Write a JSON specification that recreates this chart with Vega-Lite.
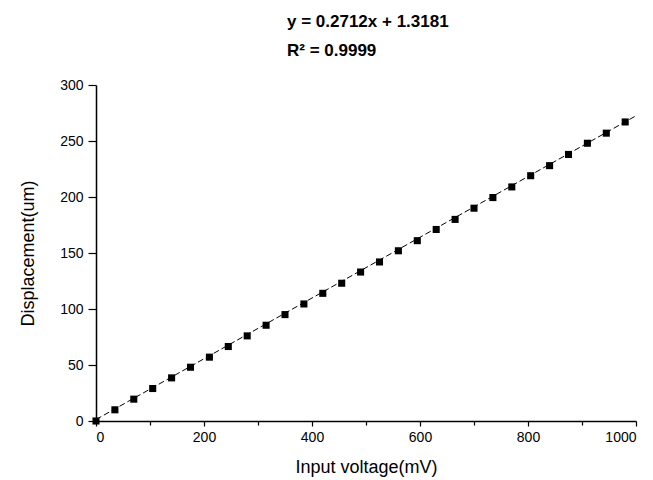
{
  "$schema": "https://vega.github.io/schema/vega-lite/v6.json",
  "width": 540,
  "height": 336,
  "autosize": {"type": "none"},
  "padding": {"left": 96, "top": 85, "right": 17, "bottom": 59},
  "background": "white",
  "config": {
    "view": {"stroke": null},
    "font": "Liberation Sans",
    "axis": {
      "domainColor": "black",
      "domainWidth": 1.5,
      "tickColor": "black",
      "tickWidth": 1.2,
      "labelColor": "black",
      "titleColor": "black",
      "labelFont": "Liberation Sans",
      "titleFont": "Liberation Sans",
      "labelFontSize": 14,
      "titleFontSize": 18,
      "titleFontWeight": "normal",
      "grid": false
    }
  },
  "title": {
    "text": ["y = 0.2712x + 1.3181", "R² = 0.9999"],
    "anchor": "start",
    "frame": "group",
    "align": "left",
    "dx": 191,
    "dy": 17,
    "fontSize": 17,
    "fontWeight": "bold",
    "font": "Liberation Sans",
    "color": "black",
    "lineHeight": 29,
    "baseline": "alphabetic",
    "offset": 22
  },
  "datasets": {
    "points": [
      {"voltage": 0, "displacement": 0},
      {"voltage": 35, "displacement": 10},
      {"voltage": 70, "displacement": 19.5},
      {"voltage": 105, "displacement": 29},
      {"voltage": 140, "displacement": 38.5},
      {"voltage": 175, "displacement": 48},
      {"voltage": 210, "displacement": 57},
      {"voltage": 245, "displacement": 66.5},
      {"voltage": 280, "displacement": 76},
      {"voltage": 315, "displacement": 85.5},
      {"voltage": 350, "displacement": 95},
      {"voltage": 385, "displacement": 104.5},
      {"voltage": 420, "displacement": 114},
      {"voltage": 455, "displacement": 123},
      {"voltage": 490, "displacement": 133},
      {"voltage": 525, "displacement": 142},
      {"voltage": 560, "displacement": 152},
      {"voltage": 595, "displacement": 161},
      {"voltage": 630, "displacement": 171},
      {"voltage": 665, "displacement": 180},
      {"voltage": 700, "displacement": 190},
      {"voltage": 735, "displacement": 199.5},
      {"voltage": 770, "displacement": 209},
      {"voltage": 805, "displacement": 219},
      {"voltage": 840, "displacement": 228},
      {"voltage": 875, "displacement": 238},
      {"voltage": 910, "displacement": 248},
      {"voltage": 945, "displacement": 257},
      {"voltage": 980, "displacement": 267}
    ],
    "fit": [
      {"voltage": 0, "displacement": 1.3181},
      {"voltage": 1000, "displacement": 272.5181}
    ]
  },
  "layer": [
    {
      "data": {"name": "fit"},
      "mark": {"type": "line", "color": "black", "strokeWidth": 1, "strokeDash": [6, 3], "clip": false},
      "encoding": {
        "x": {
          "field": "voltage",
          "type": "quantitative",
          "scale": {"domain": [0, 1000], "nice": false},
          "axis": {
            "title": "Input voltage(mV)",
            "format": "d",
            "values": [0, 100, 200, 300, 400, 500, 600, 700, 800, 900, 1000],
            "labelExpr": "datum.value % 200 === 0 ? datum.label : ''",
            "tickSize": {"condition": {"test": "datum.value % 200 === 0", "value": 5}, "value": 4},
            "labelPadding": 4,
            "titlePadding": 14,
            "labelOverlap": false
          }
        },
        "y": {
          "field": "displacement",
          "type": "quantitative",
          "scale": {"domain": [0, 300], "nice": false},
          "axis": {
            "title": "Displacement(um)",
            "format": "d",
            "values": [0, 25, 50, 75, 100, 125, 150, 175, 200, 225, 250, 275, 300],
            "labelExpr": "datum.value % 50 === 0 ? datum.label : ''",
            "tickSize": {"condition": {"test": "datum.value % 50 === 0", "value": 8}, "value": 3},
            "labelPadding": 5,
            "titlePadding": 22,
            "labelOverlap": false
          }
        }
      }
    },
    {
      "data": {"name": "points"},
      "mark": {"type": "point", "shape": "square", "filled": true, "color": "black", "opacity": 1, "size": 50, "clip": false},
      "encoding": {
        "x": {"field": "voltage", "type": "quantitative"},
        "y": {"field": "displacement", "type": "quantitative"}
      }
    }
  ]
}
